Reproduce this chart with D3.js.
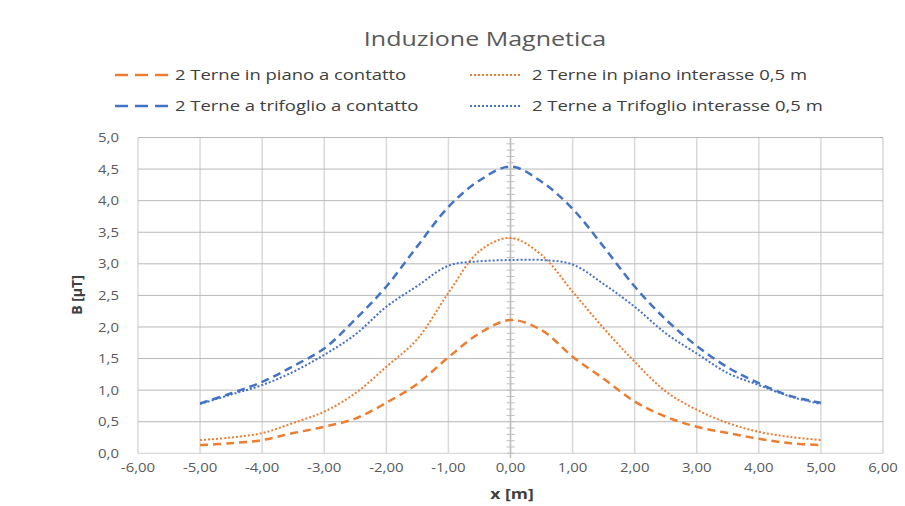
<!DOCTYPE html>
<html>
<head>
<meta charset="utf-8">
<script src="https://cdn.jsdelivr.net/npm/d3@7"></script>
<style>
  html, body { margin: 0; padding: 0; background: #fff; }
  svg { display: block; font-family: "Open Sans", "Noto Sans", sans-serif; }
</style>
</head>
<body>
<svg id="chart" width="905" height="506"></svg>
<script>
const xValues = [-5,-4.5,-4,-3.5,-3,-2.5,-2,-1.5,-1,-0.5,0,0.5,1,1.5,2,2.5,3,3.5,4,4.5,5];
const pianoContatto   = [0.13,0.16,0.21,0.32,0.42,0.55,0.80,1.10,1.52,1.90,2.11,1.95,1.53,1.18,0.82,0.58,0.42,0.32,0.23,0.16,0.13];
const pianoInterasse  = [0.21,0.25,0.32,0.48,0.66,0.95,1.37,1.81,2.54,3.20,3.41,3.14,2.56,1.98,1.45,0.98,0.69,0.48,0.34,0.26,0.21];
const trifoglioContatto = [0.79,0.95,1.13,1.38,1.66,2.12,2.64,3.28,3.90,4.32,4.54,4.30,3.87,3.27,2.64,2.12,1.70,1.36,1.11,0.91,0.80];
const trifoglioInterasse = [0.78,0.93,1.08,1.29,1.56,1.88,2.32,2.65,2.97,3.04,3.06,3.06,2.99,2.68,2.32,1.90,1.58,1.27,1.08,0.90,0.78];
const xTicks = [-6,-5,-4,-3,-2,-1,0,1,2,3,4,5,6];
const yTicks = [0,0.5,1,1.5,2,2.5,3,3.5,4,4.5,5];
const seriesNames = ["2 Terne in piano a contatto","2 Terne in piano interasse 0,5 m","2 Terne a trifoglio a contatto","2 Terne a Trifoglio interasse 0,5 m"];

const series = [
  {name: seriesNames[0], values: pianoContatto, color: "#ED7D31", dash: "8,5", width: 2.5, dotted: false},
  {name: seriesNames[1], values: pianoInterasse, color: "#ED7D31", dash: "2,2", width: 2, dotted: true},
  {name: seriesNames[2], values: trifoglioContatto, color: "#4472C4", dash: "8,5", width: 2.5, dotted: false},
  {name: seriesNames[3], values: trifoglioInterasse, color: "#4472C4", dash: "2,2", width: 2, dotted: true}
];

const svg = d3.select("#chart");
const pLeft = 138, pRight = 883, pTop = 137.5, pBottom = 453.3;
const x = d3.scaleLinear().domain([-6, 6]).range([pLeft, pRight]);
const y = d3.scaleLinear().domain([0, 5]).range([pBottom, pTop]);
const fmtComma = (d, n) => d.toFixed(n).replace(".", ",");

// text helper with horizontal stretch (reference text is horizontally widened)
function stretchedText(parent, tx, ty, sx, txt, opts) {
  const g = parent.append("g").attr("transform", `translate(${tx},${ty}) scale(${sx},1)`);
  const t = g.append("text").attr("x", 0).attr("y", 0)
    .attr("text-anchor", opts.anchor || "start")
    .attr("font-size", opts.size).attr("fill", opts.fill || "#595959")
    .attr("font-weight", opts.weight || "normal")
    .text(txt);
  if (opts.dy) t.attr("dy", opts.dy);
  return g;
}

// vertical gridlines
svg.append("g").selectAll("line").data(xTicks).join("line")
  .attr("x1", d => x(d)).attr("x2", d => x(d))
  .attr("y1", y(5)).attr("y2", y(0))
  .attr("stroke", "#d9d9d9").attr("stroke-width", 1.5);
// horizontal gridlines
svg.append("g").selectAll("line").data(yTicks).join("line")
  .attr("x1", x(-6)).attr("x2", x(6))
  .attr("y1", d => y(d)).attr("y2", d => y(d))
  .attr("stroke", d => d === 0 ? "#d0d0d0" : "#b8b8b8").attr("stroke-width", 1);

// value axis crossing at x = 0 with minor cross ticks
const minor = d3.range(0, 51).map(i => i / 10);
svg.append("line")
  .attr("x1", x(0)).attr("x2", x(0)).attr("y1", y(5)).attr("y2", y(0) + 5)
  .attr("stroke", "#bfbfbf").attr("stroke-width", 1.5);
svg.append("g").selectAll("line").data(minor).join("line")
  .attr("x1", x(0) - 4).attr("x2", x(0) + 4)
  .attr("y1", d => y(d)).attr("y2", d => y(d))
  .attr("stroke", "#bfbfbf").attr("stroke-width", 1);

// y tick labels
const gy = svg.append("g");
yTicks.forEach(d => stretchedText(gy, 119, y(d), 1.15, fmtComma(d, 1), {anchor: "end", size: 13, dy: "0.35em"}));
// x tick labels
const gx = svg.append("g");
xTicks.forEach(d => stretchedText(gx, x(d), 472, 1.15, fmtComma(d, 2), {anchor: "middle", size: 13}));

// axis titles
stretchedText(svg, 512, 499, 1.25, "x [m]", {anchor: "middle", size: 14, weight: "bold", fill: "#404040"});
svg.append("text").attr("transform", "translate(82,295) rotate(-90)").attr("text-anchor", "middle")
  .attr("font-size", 14).attr("font-weight", "bold").attr("fill", "#404040").text("B [µT]");

// chart title
stretchedText(svg, 485, 46, 1.22, "Induzione Magnetica", {anchor: "middle", size: 20.5});

// series lines
const line = d3.line().x(d => x(d[0])).y(d => y(d[1])).curve(d3.curveCatmullRom.alpha(0.5));
svg.append("g").selectAll("path").data(series).join("path")
  .attr("d", s => line(xValues.map((xv, i) => [xv, s.values[i]])))
  .attr("fill", "none").attr("stroke", s => s.color)
  .attr("stroke-width", s => s.width).attr("stroke-dasharray", s => s.dash);

// legend
const legendPos = [[115, 75], [470, 75], [115, 106], [470, 106]];
const lg = svg.append("g").selectAll("g").data(series).join("g")
  .attr("transform", (s, i) => `translate(${legendPos[i][0]},${legendPos[i][1]})`);
lg.append("line").attr("x1", 0).attr("x2", s => s.dotted ? 52 : 53).attr("y1", 0).attr("y2", 0)
  .attr("stroke", s => s.color).attr("stroke-width", s => s.width)
  .attr("stroke-dasharray", s => s.dotted ? "2,2" : "13,7");
lg.each(function(s, i) {
  stretchedText(d3.select(this), i % 2 === 0 ? 60 : 62, 0, 1.23, s.name, {size: 15, fill: "#404040", dy: "0.35em"});
});
</script>
</body>
</html>
